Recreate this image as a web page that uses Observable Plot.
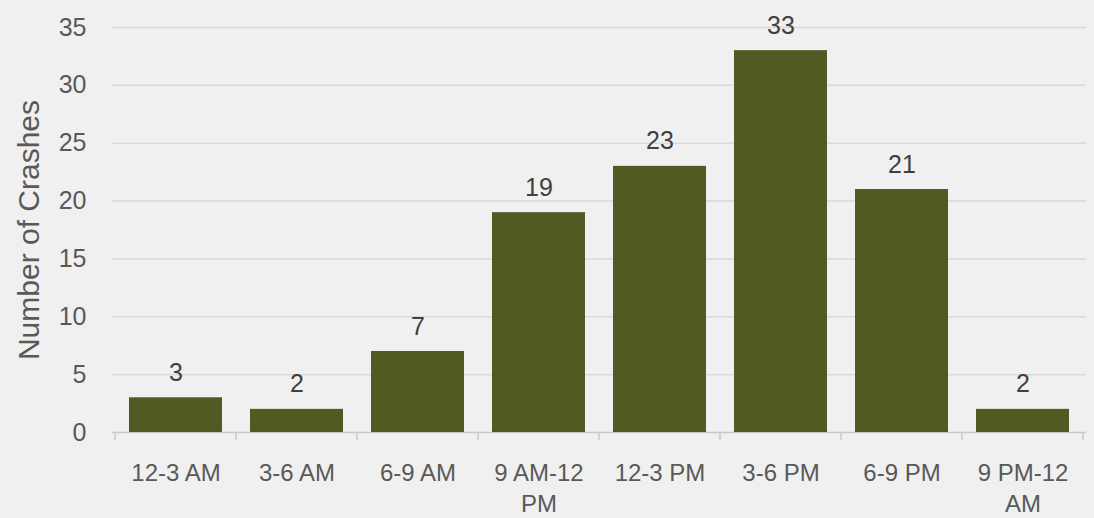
<!DOCTYPE html>
<html>
<head>
<meta charset="utf-8">
<script src="https://cdn.jsdelivr.net/npm/d3@7"></script>
<script src="https://cdn.jsdelivr.net/npm/@observablehq/plot@0.6"></script>
<style>
  html, body { margin: 0; padding: 0; background: #f0f0f0; }
  #chart svg { display: block; background: #f0f0f0; }
  #chart svg g[aria-label="y-axis label"] { font-size: 30px; }
</style>
</head>
<body>
<div id="chart"></div>
<script>
const categories = ["12-3 AM", "3-6 AM", "6-9 AM", "9 AM-12\nPM", "12-3 PM", "3-6 PM", "6-9 PM", "9 PM-12\nAM"];
const crashes = [3, 2, 7, 19, 23, 33, 21, 2];
const yTicks = [0, 5, 10, 15, 20, 25, 30, 35];

const data = categories.map((c, i) => ({category: c, value: crashes[i]}));
const FONT = '"Liberation Sans", Arial, sans-serif';

function boundaryTicks(index, scales) {
  const x = scales.x, y = scales.y;
  const step = x.step(), bw = x.bandwidth();
  const half = (step - bw) / 2;
  const y0 = y(0);
  const g = d3.create("svg:g").attr("stroke", "#c8c8c8").attr("stroke-width", 1.5);
  const xs = categories.map(c => x(c) - half);
  xs.push(x(categories[categories.length - 1]) + bw + half);
  for (const xv of xs) {
    g.append("line").attr("x1", xv).attr("x2", xv).attr("y1", y0).attr("y2", y0 + 8);
  }
  return g.node();
}

const chart = Plot.plot({
  width: 1094,
  height: 518,
  marginTop: 27,
  marginBottom: 86,
  marginLeft: 112,
  marginRight: 8,
  style: {background: "#f0f0f0", fontFamily: FONT, fontSize: "24px", color: "#595959"},
  x: {domain: categories, paddingInner: 0.23, paddingOuter: 0.115},
  y: {domain: [0, 35]},
  marks: [
    Plot.gridY(yTicks.filter(d => d > 0), {stroke: "#d9d9d9", strokeOpacity: 1, strokeWidth: 1.5}),
    Plot.ruleY([0], {stroke: "#c8c8c8", strokeWidth: 1.5}),
    boundaryTicks,
    Plot.barY(data, {x: "category", y: "value", fill: "#525a23"}),
    Plot.text(data, {x: "category", y: "value", text: d => String(d.value), lineAnchor: "bottom", dy: -17, fill: "#404040", fontSize: 25}),
    Plot.axisY({ticks: yTicks, tickSize: 0, tickPadding: 26, label: "Number of Crashes", labelAnchor: "center", labelArrow: "none", labelOffset: 95, fill: "#595959", fontSize: 25}),
    Plot.axisX({tickSize: 0, tickPadding: 26, label: null, lineHeight: 1.3, fill: "#595959", fontSize: 24})
  ]
});
document.getElementById("chart").appendChild(chart);
</script>
</body>
</html>
